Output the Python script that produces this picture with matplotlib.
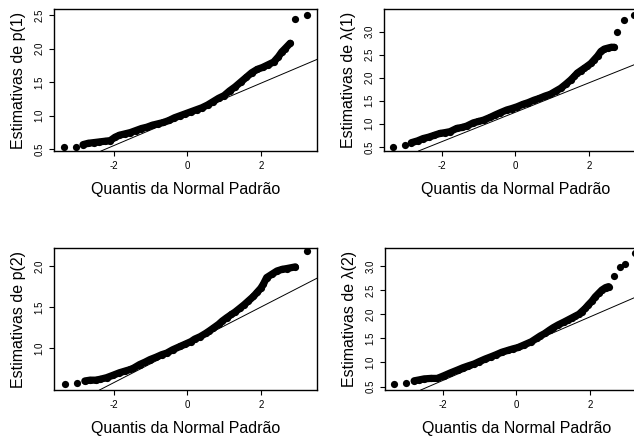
import matplotlib.pyplot as plt

plt.rcParams['font.family'] = ['Liberation Sans', 'DejaVu Sans']
plt.rcParams['axes.unicode_minus'] = False

# theoretical normal quantiles / sample estimates
p1_x = [-3.35, -3.02, -2.84, -2.7, -2.55, -2.4, -2.25, -2.1, -1.97, -1.85, -1.7, -1.55,
        -1.4, -1.25, -1.1, -0.95, -0.8, -0.65, -0.5, -0.35, -0.2, -0.05, 0.1, 0.25,
        0.4, 0.55, 0.7, 0.85, 1.0, 1.15, 1.3, 1.45, 1.6, 1.75, 1.9, 2.05, 2.2, 2.35,
        2.48, 2.57, 2.66, 2.8, 2.92, 3.25]
p1_y = [0.54, 0.54, 0.57, 0.59, 0.60, 0.61, 0.62, 0.63, 0.68, 0.71, 0.73, 0.75,
        0.78, 0.81, 0.83, 0.86, 0.88, 0.90, 0.93, 0.97, 1.00, 1.03, 1.06, 1.09,
        1.12, 1.16, 1.21, 1.26, 1.30, 1.37, 1.43, 1.50, 1.57, 1.64, 1.69, 1.72, 1.76, 1.80,
        1.88, 1.95, 2.00, 2.08, 2.44, 2.50]

l1_x = [-3.32, -3.0, -2.82, -2.65, -2.5, -2.35, -2.2, -2.05, -1.9, -1.77, -1.59, -1.45,
        -1.32, -1.14, -1.0, -0.86, -0.68, -0.55, -0.41, -0.23, -0.1, 0.05, 0.2, 0.35,
        0.5, 0.65, 0.8, 0.95, 1.1, 1.23, 1.37, 1.5, 1.6, 1.68, 1.77, 1.86, 1.95, 2.05,
        2.14, 2.23, 2.32, 2.41, 2.5, 2.6, 2.68, 2.77, 2.94, 3.23]
l1_y = [0.50, 0.53, 0.59, 0.63, 0.68, 0.71, 0.75, 0.79, 0.81, 0.83, 0.90, 0.92,
        0.95, 1.02, 1.05, 1.08, 1.14, 1.19, 1.24, 1.30, 1.33, 1.37, 1.42, 1.46,
        1.51, 1.55, 1.60, 1.64, 1.71, 1.77, 1.86, 1.95, 2.03, 2.10, 2.15, 2.20, 2.25, 2.31,
        2.39, 2.47, 2.57, 2.62, 2.64, 2.66, 2.66, 3.00, 3.25, 3.36]

p2_x = [-3.34, -3.0, -2.79, -2.65, -2.5, -2.38, -2.2, -2.02, -1.85, -1.7, -1.55, -1.47,
        -1.3, -1.15, -1.02, -0.85, -0.7, -0.56, -0.4, -0.2, -0.05, 0.1, 0.2, 0.35,
        0.5, 0.6, 0.71, 0.85, 0.95, 1.07, 1.2, 1.3, 1.44, 1.55, 1.65, 1.8, 1.9, 2.0,
        2.07, 2.16, 2.3, 2.44, 2.58, 2.71, 2.94, 3.25]
p2_y = [0.56, 0.58, 0.60, 0.61, 0.61, 0.62, 0.64, 0.67, 0.70, 0.72, 0.74, 0.755,
        0.80, 0.83, 0.86, 0.89, 0.92, 0.94, 0.98, 1.02, 1.05, 1.08, 1.11, 1.14,
        1.18, 1.21, 1.245, 1.29, 1.33, 1.37, 1.41, 1.44, 1.49, 1.53, 1.57, 1.63, 1.68, 1.73,
        1.78, 1.86, 1.90, 1.94, 1.96, 1.97, 1.99, 2.18]

l2_x = [-3.32, -3.0, -2.77, -2.63, -2.5, -2.32, -2.14, -1.95, -1.8, -1.59, -1.45, -1.3,
        -1.14, -1.0, -0.85, -0.68, -0.55, -0.4, -0.23, -0.1, 0.05, 0.2, 0.41, 0.55,
        0.65, 0.77, 0.9, 1.0, 1.14, 1.3, 1.4, 1.5, 1.6, 1.7, 1.77, 1.87, 1.95, 2.05,
        2.14, 2.23, 2.32, 2.42, 2.5, 2.64, 2.82, 2.95, 3.23]
l2_y = [0.555, 0.576, 0.62, 0.64, 0.66, 0.67, 0.67, 0.73, 0.78, 0.845, 0.89, 0.93,
        0.97, 1.02, 1.07, 1.12, 1.16, 1.21, 1.25, 1.28, 1.31, 1.36, 1.43, 1.50,
        1.55, 1.60, 1.67, 1.72, 1.78, 1.84, 1.88, 1.92, 1.96, 2.00, 2.05, 2.12, 2.19, 2.27,
        2.36, 2.43, 2.50, 2.55, 2.57, 2.78, 2.97, 3.03, 3.26]

# reference lines (intercept, slope)
lines = [(1.02, 0.232), (1.25, 0.32), (1.04, 0.23), (1.285, 0.33)]
ylabels = ['Estimativas de p(1)', 'Estimativas de λ(1)',
           'Estimativas de p(2)', 'Estimativas de λ(2)']
series = [(p1_x, p1_y), (l1_x, l1_y), (p2_x, p2_y), (l2_x, l2_y)]
ylims = [(0.475, 2.59), (0.41, 3.49), (0.49, 2.22), (0.43, 3.37)]
yticks = [[0.5, 1.0, 1.5, 2.0, 2.5], [0.5, 1.0, 1.5, 2.0, 2.5, 3.0],
          [1.0, 1.5, 2.0], [0.5, 1.0, 1.5, 2.0, 2.5, 3.0]]
xlims = [(-3.63, 3.53), (-3.56, 3.57), (-3.63, 3.53), (-3.56, 3.57)]
# where the points pile up into a solid band (slice of each series)
dense = [(2, 42), (2, 45), (2, 45), (2, 43)]

W, H = 634, 436
boxes = [(54, 9), (384, 9), (54, 248), (385, 248)]  # left, top in pixels

fig = plt.figure(figsize=(W / 100, H / 100), dpi=100)
for i in range(4):
    left, top = boxes[i]
    ax = fig.add_axes([left / W, (H - top - 142) / H, 263 / W, 142 / H])
    xs, ys = series[i]
    a0, a1 = dense[i]
    ax.plot(xs[a0:a1], ys[a0:a1], '-', color='black', lw=5.2,
            solid_capstyle='round', solid_joinstyle='round')
    ax.plot(xs, ys, 'o', color='black', markersize=5.2, markeredgewidth=0)
    a, b = lines[i]
    ax.axline((0, a), slope=b, color='black', lw=0.7)
    ax.set_xlim(xlims[i])
    ax.set_ylim(ylims[i])
    ax.set_xticks([-2, 0, 2])
    ax.set_xticklabels(['-2', '0', '2'])
    ax.set_yticks(yticks[i])
    ax.set_yticklabels([f'{v:.1f}' for v in yticks[i]], rotation=90, va='center')
    ax.tick_params(direction='out', length=3.5, width=0.8, labelsize=7, pad=3.5)
    for s in ax.spines.values():
        s.set_linewidth(1.0)
    ax.set_xlabel('Quantis da Normal Padrão', fontsize=11.5, labelpad=8)
    ax.set_ylabel(ylabels[i], fontsize=11.5, labelpad=6)

fig.savefig('out.png', dpi=100)
